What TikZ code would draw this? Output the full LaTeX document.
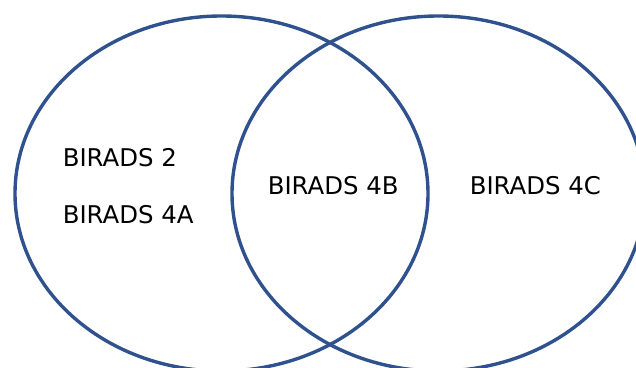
\documentclass[tikz,border=0pt]{standalone}
\usepackage{fontspec}
\setmainfont{DejaVu Sans}
\definecolor{ringblue}{RGB}{47,82,143}
\tikzset{
  ring/.style={draw=ringblue, line width=3.4pt},
  lbl/.style={anchor=base west, inner sep=0pt, font=\fontsize{24.4pt}{29pt}\selectfont, text=black}
}
\begin{document}
\begin{tikzpicture}[x=1pt,y=1pt]
\useasboundingbox (0,0) rectangle (636,367);
\draw[ring] (221.5,173.5) ellipse [x radius=206.5, y radius=177.5];
\draw[ring] (438.5,173.5) ellipse [x radius=206.5, y radius=177.5];
\node[lbl] (b2) at (62.6,200.0) {BIRADS 2};
\node[lbl] (b4a) at (62.6,144.0) {BIRADS 4A};
\node[lbl] (b4b) at (267.6,172.0) {BIRADS 4B};
\node[lbl] (b4c) at (469.6,172.0) {BIRADS 4C};
\end{tikzpicture}
\end{document}
